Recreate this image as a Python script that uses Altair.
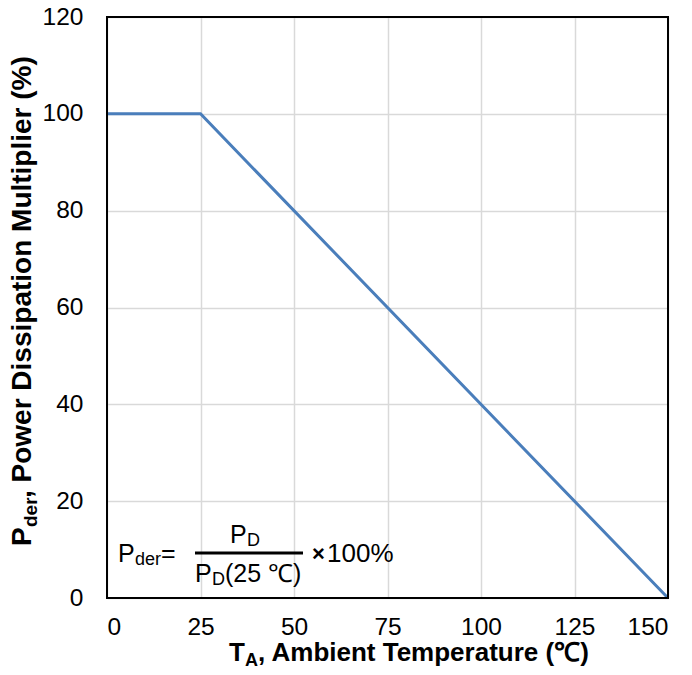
import altair as alt
import pandas as pd

# Derating curve: full power up to 25 °C, linear fall to zero at 150 °C
temperature = [0, 25, 150]
multiplier = [100, 100, 0]

x_ticks = [0, 25, 50, 75, 100, 125, 150]
y_ticks = [0, 20, 40, 60, 80, 100, 120]

FONT = "Liberation Sans"
W, H = 561, 581

df = pd.DataFrame({"temp": temperature, "pct": multiplier})

axis_style = dict(
    title=None,
    grid=True,
    gridColor="#d9d9d9",
    gridWidth=1.5,
    ticks=False,
    domain=False,
    labelFont=FONT,
    labelFontSize=24.5,
    labelColor="black",
)

curve = alt.Chart(df).mark_line(color="#4a7ebb", strokeWidth=3).encode(
    x=alt.X(
        "temp:Q",
        scale=alt.Scale(domain=[0, 150], nice=False),
        axis=alt.Axis(values=x_ticks, labelPadding=17, **axis_style),
    ),
    y=alt.Y(
        "pct:Q",
        scale=alt.Scale(domain=[0, 120], nice=False),
        axis=alt.Axis(values=y_ticks, labelPadding=24, **axis_style),
    ),
)


def txt(s, x, y, size, bold=False, angle=0, align="left"):
    """A piece of annotation text placed in plot-area pixels."""
    return alt.Chart(alt.Data(values=[{}])).mark_text(
        text=s,
        font=FONT,
        fontSize=size,
        fontWeight="bold" if bold else "normal",
        color="black",
        align=align,
        baseline="alphabetic",
        angle=angle,
    ).encode(x=alt.value(x), y=alt.value(y))


# y-axis title: P_der, Power Dissipation Multiplier (%)
y_title = [
    txt("P", -76, 529, 28, True, 270),
    txt("der", -70, 510, 19, True, 270),
    txt(", Power Dissipation Multiplier (%)", -76, 481, 28, True, 270),
]

# x-axis title: T_A, Ambient Temperature (℃)
x_title = [
    txt("T", 122, 644, 26, True),
    txt("A", 138, 649, 18, True),
    txt(", Ambient Temperature (℃)", 151, 644, 26, True),
]

# Formula: P_der = P_D / P_D(25 ℃) × 100%
formula = [
    txt("P", 11, 545, 25),
    txt("der", 28, 548, 18),
    txt("=", 54, 545, 25),
    txt("P", 123, 526, 25),
    txt("D", 140, 529, 18),
    txt("P", 88, 565, 25),
    txt("D", 105, 568, 18),
    txt("(25 ℃)", 118, 565, 25),
    txt("×", 205, 544, 22, True),
    txt("100%", 220, 545, 26),
]

fraction_bar = alt.Chart(alt.Data(values=[{}])).mark_rule(
    color="black", strokeWidth=3
).encode(x=alt.value(88), x2=alt.value(196), y=alt.value(536))

# plot-area frame drawn above the gridlines
frame = alt.Chart(alt.Data(values=[{}])).mark_rect(
    fillOpacity=0, stroke="black", strokeWidth=2
).encode(x=alt.value(0), x2=alt.value(W), y=alt.value(0), y2=alt.value(H))

chart = alt.layer(
    curve, frame, *y_title, *x_title, *formula, fraction_bar
).properties(
    width=W,
    height=H,
    autosize=alt.AutoSizeParams(type="none"),
    padding={"left": 107, "top": 17, "right": 24, "bottom": 77},
    background="white",
).configure_view(strokeWidth=0)

chart.save("out.html", embed_options={"renderer": "svg", "actions": False})
